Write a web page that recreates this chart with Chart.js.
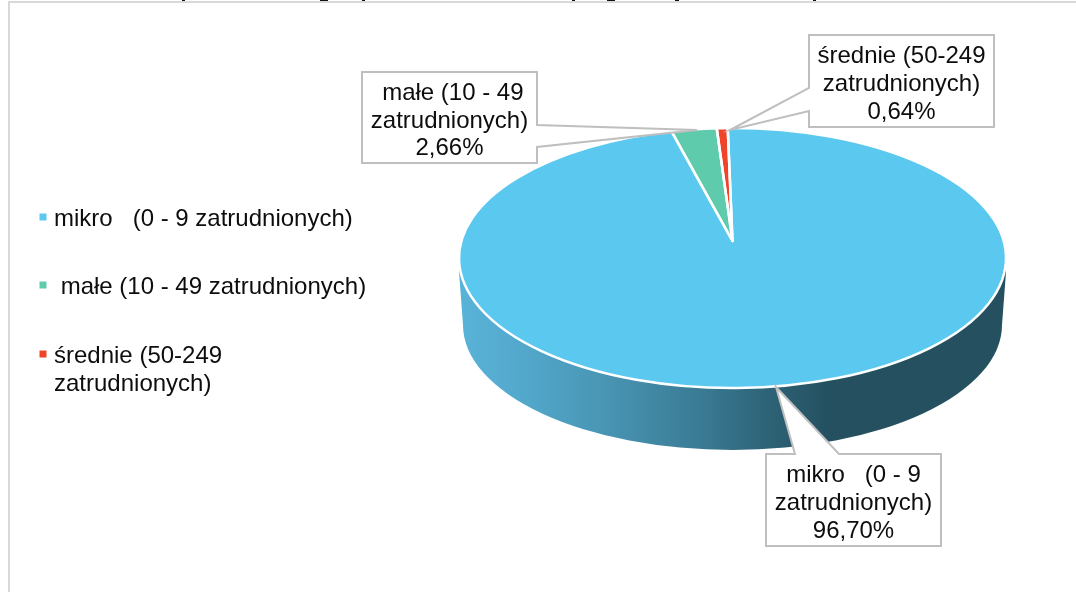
<!DOCTYPE html>
<html><head><meta charset="utf-8">
<style>html,body{margin:0;padding:0;background:#fff;overflow:hidden}canvas{display:block}</style>
<script src="https://cdn.jsdelivr.net/npm/chart.js@4/dist/chart.umd.min.js"></script>
</head><body>
<canvas id="c" width="1076" height="592"></canvas>
<script>
const categories = ["mikro   (0 - 9 zatrudnionych)", " małe (10 - 49 zatrudnionych)", "średnie (50-249 zatrudnionych)"];
const shares = [96.70, 2.66, 0.64];
const colors = ["#5BC8F0", "#5FCBAD", "#F0442A"];

const FONT = '24px "Liberation Sans", Arial, sans-serif';
const RX_RATIO = 273.5 / 130, APEX_LIFT = 17;
const callouts = [
  {box:[766,454,941,546], side:'top',  a:795, b:839, tip:[776,387], cy:[475,503,531]},
  {box:[362,72,537,163],  side:'right',a:125, b:147, tip:[697,130], cy:[93,121,148]},
  {box:[809,35,994,127],  side:'left', a:88,  b:111, tip:[730,130], cy:[56,84,112]}
];
const legendRows = [[219],[287],[356,384]];
const titleCutoff = [[182,3],[320,8],[362,3],[572,3],[607,8],[675,4],[813,3]];

function wrap(label){ return label.replace(' zatrudnionych)', '\nzatrudnionych)').split('\n'); }
function pct(v){ return v.toFixed(2).replace('.', ',') + '%'; }

const pie3d = {
  id: 'pie3d',
  beforeDatasetDraw(chart){
    const ctx = chart.ctx, arcs = chart.getDatasetMeta(0).data;
    const cx = arcs[0].x, cy = arcs[0].y, ry = arcs[0].outerRadius, rx = ry * RX_RATIO;
    ctx.save();
    // clipped remains of the title above the frame
    ctx.fillStyle = '#111111';
    titleCutoff.forEach(([x, w]) => ctx.fillRect(x, 0, w, 1));
    // frame
    ctx.strokeStyle = '#D9D9D9'; ctx.lineWidth = 2;
    ctx.beginPath(); ctx.moveTo(9, 592); ctx.lineTo(9, 2); ctx.lineTo(1076, 2); ctx.stroke();
    // side wall
    const g = ctx.createLinearGradient(cx - rx, 0, cx + rx, 0);
    g.addColorStop(0, '#59B3D8'); g.addColorStop(0.12, '#52A8CB');
    g.addColorStop(0.3, '#4690AE'); g.addColorStop(0.45, '#397992');
    g.addColorStop(0.58, '#2C6073'); g.addColorStop(0.68, '#245060'); g.addColorStop(1, '#245060');
    ctx.fillStyle = g;
    ctx.beginPath();
    ctx.moveTo(cx - rx, cy + 14);
    ctx.lineTo(cx - rx + 4, cy + 67);
    ctx.ellipse(cx, cy + 67, rx - 4, ry - 5, 0, Math.PI, 0, true);
    ctx.lineTo(cx + rx, cy + 14);
    ctx.lineTo(cx + rx, cy);
    ctx.ellipse(cx, cy, rx, ry, 0, 0, Math.PI, false);
    ctx.closePath(); ctx.fill();
    // top face, from the library's arc angles
    const apexY = cy - APEX_LIFT;
    arcs.forEach(arc => {
      ctx.beginPath();
      ctx.moveTo(cx, apexY);
      ctx.ellipse(cx, cy, rx, ry, 0, arc.startAngle, arc.endAngle, false);
      ctx.closePath();
      ctx.fillStyle = arc.options.backgroundColor; ctx.fill();
    });
    arcs.forEach(arc => {
      ctx.beginPath();
      ctx.moveTo(cx, apexY);
      ctx.ellipse(cx, cy, rx, ry, 0, arc.startAngle, arc.endAngle, false);
      ctx.closePath();
      ctx.strokeStyle = arc.options.borderColor; ctx.lineWidth = 2.5;
      ctx.lineJoin = 'round'; ctx.stroke();
    });
    ctx.restore();
    return false;
  },
  afterDatasetsDraw(chart){
    const ctx = chart.ctx;
    ctx.save();
    ctx.font = FONT; ctx.fillStyle = '#0D0D0D'; ctx.textBaseline = 'middle';
    callouts.forEach((c, i) => {
      const [l, t, r, b] = c.box;
      ctx.beginPath();
      ctx.moveTo(l, t);
      if (c.side === 'top') { ctx.lineTo(c.a, t); ctx.lineTo(c.tip[0], c.tip[1]); ctx.lineTo(c.b, t); }
      ctx.lineTo(r, t);
      if (c.side === 'right') { ctx.lineTo(r, c.a); ctx.lineTo(c.tip[0], c.tip[1]); ctx.lineTo(r, c.b); }
      ctx.lineTo(r, b); ctx.lineTo(l, b);
      if (c.side === 'left') { ctx.lineTo(l, c.b); ctx.lineTo(c.tip[0], c.tip[1]); ctx.lineTo(l, c.a); }
      ctx.closePath();
      ctx.fillStyle = '#FFFFFF'; ctx.fill();
      ctx.strokeStyle = '#BFBFBF'; ctx.lineWidth = 2; ctx.lineJoin = 'miter'; ctx.stroke();
      ctx.fillStyle = '#0D0D0D'; ctx.textAlign = 'center';
      const lines = wrap(categories[i]).concat(pct(shares[i]));
      lines.forEach((s, k) => ctx.fillText(s, (l + r) / 2, c.cy[k]));
    });
    ctx.textAlign = 'left';
    categories.forEach((label, i) => {
      const rows = legendRows[i];
      ctx.fillStyle = colors[i];
      ctx.fillRect(39.5, rows[0] - 5.5, 7, 7);
      ctx.fillStyle = '#0D0D0D';
      const lines = rows.length > 1 ? wrap(label) : [label];
      lines.forEach((s, k) => ctx.fillText(s, 54, rows[k]));
    });
    ctx.restore();
  }
};

new Chart(document.getElementById('c'), {
  type: 'pie',
  data: { labels: categories, datasets: [{ data: shares, backgroundColor: colors, borderColor: '#FFFFFF', borderWidth: 2 }] },
  options: {
    responsive: false, animation: false, rotation: -1,
    layout: { padding: { left: 459, right: 70, top: 127, bottom: 203 } },
    plugins: { legend: { display: false }, tooltip: { enabled: false }, title: { display: false } }
  },
  plugins: [pie3d]
});
</script>
</body></html>
